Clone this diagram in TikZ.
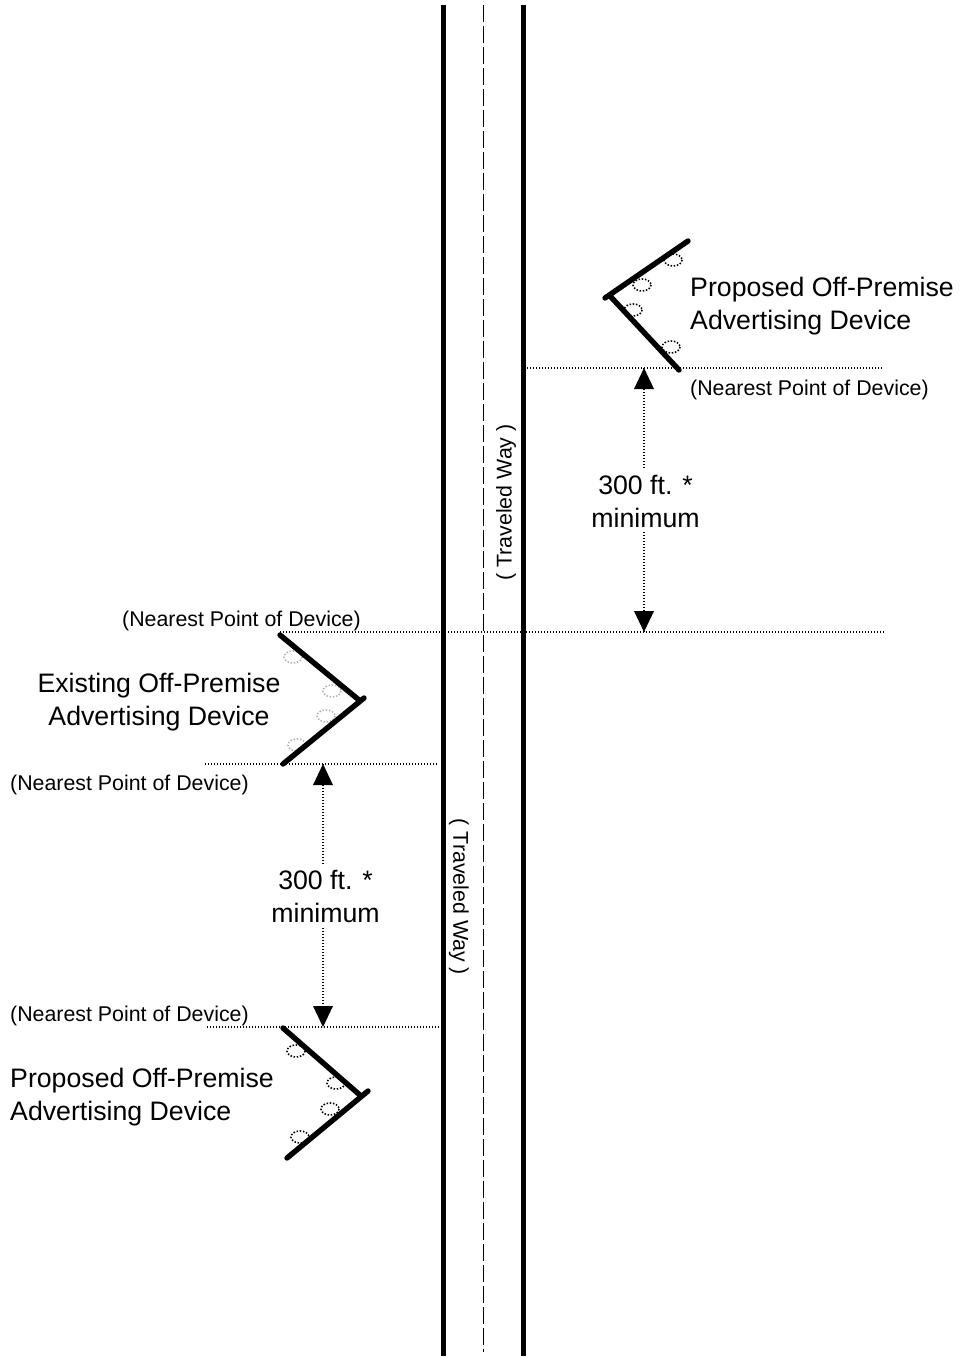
\documentclass[tikz,border=0pt]{standalone}
\usepackage{fontspec}
\setmainfont{Liberation Sans}
\begin{document}
\begin{tikzpicture}[x=1pt,y=-1pt,
  road/.style={line width=4.2pt},
  center/.style={line width=1.8pt,dash pattern=on 16.5pt off 4.5pt},
  wing/.style={line width=5.4pt,line cap=round},
  post/.style={draw=#1,line width=1.6pt,dash pattern=on 1.5pt off 1.7pt},
  post/.default=black,
  guide/.style={line width=1.3pt,dash pattern=on 1.3pt off 1.7pt},
  tip/.style={fill=black,draw=none},
  big/.style={font=\fontsize{26.7}{33}\selectfont,align=center,inner sep=0pt},
  small/.style={font=\fontsize{21.35}{24}\selectfont,inner sep=0pt},
]
\useasboundingbox (0,0) rectangle (961,1357);
% road
\coordinate (lt) at (443.5,5); \coordinate (lb) at (443.5,1356);
\coordinate (ct) at (483.5,5); \coordinate (cb) at (483.5,1352);
\coordinate (rt) at (523.5,5); \coordinate (rb) at (523.5,1356);
\draw[road] (lt) -- (lb);
\draw[road] (rt) -- (rb);
\draw[center] (ct) -- (cb);
% guide lines
\coordinate (g1a) at (527,368); \coordinate (g1b) at (883,368);
\coordinate (g2a) at (280,632); \coordinate (g2b) at (885,632);
\coordinate (g3a) at (205,764); \coordinate (g3b) at (438,764);
\coordinate (g4a) at (207,1027); \coordinate (g4b) at (446,1027);
\foreach \a/\b in {g1a/g1b,g2a/g2b,g3a/g3b,g4a/g4b} \draw[guide] (\a) -- (\b);
% device posts
\foreach \x/\y in {673/260,642/285,633/310,671/347,296/1051,336/1083,330/1109,300/1137}
  \draw[post] (\x,\y) ellipse (9 and 6);
\foreach \x/\y in {293/657,332/691,326/716,297/745}
  \draw[post=black!30] (\x,\y) ellipse (9 and 6);
% device wings
\draw[wing] (688,241) -- (605,298);
\draw[wing] (610,296) -- (679,370);
\draw[wing] (280,635) -- (359,700);
\draw[wing] (364,698) -- (283,764);
\draw[wing] (283,1028) -- (361,1096);
\draw[wing] (368,1091) -- (287,1158);
% measures
\coordinate (m1t) at (644,368); \coordinate (m1b) at (644,632);
\coordinate (m2t) at (323,764); \coordinate (m2b) at (323,1027);
\coordinate (m1u) at (644,468); \coordinate (m1l) at (644,532);
\coordinate (m2u) at (323,864); \coordinate (m2l) at (323,928);
\draw[guide] (m1t) -- (m1u);
\draw[guide] (m1l) -- (m1b);
\draw[guide] (m2t) -- (m2u);
\draw[guide] (m2l) -- (m2b);
\foreach \p in {m1t,m2t} \fill[tip] (\p) -- ++(10,21) -- ++(-20,0) -- cycle;
\foreach \p in {m1b,m2b} \fill[tip] (\p) -- ++(10,-21) -- ++(-20,0) -- cycle;
% labels
\node[big] (d1) at (645.5,501.5) {300 ft. *\\minimum};
\node[big] (d2) at (325.5,896) {300 ft. *\\minimum};
\node[big,anchor=west,align=left] (p1) at (690,306) {Proposed Off-Premise\\Advertising Device};
\node[big] (e1) at (159,702) {Existing Off-Premise\\Advertising Device};
\node[big,anchor=west,align=left] (p2) at (10,1097) {Proposed Off-Premise\\Advertising Device};
\node[small,anchor=west] (n1) at (690,390) {(Nearest Point of Device)};
\node[small,anchor=west] (n2) at (122,621) {(Nearest Point of Device)};
\node[small,anchor=west] (n3) at (10,785) {(Nearest Point of Device)};
\node[small,anchor=west] (n4) at (10,1016) {(Nearest Point of Device)};
\node[small,rotate=90] (t1) at (506,502.5) {( Traveled Way )};
\node[small,rotate=-90] (t2) at (459,897) {( Traveled Way )};
\end{tikzpicture}
\end{document}
